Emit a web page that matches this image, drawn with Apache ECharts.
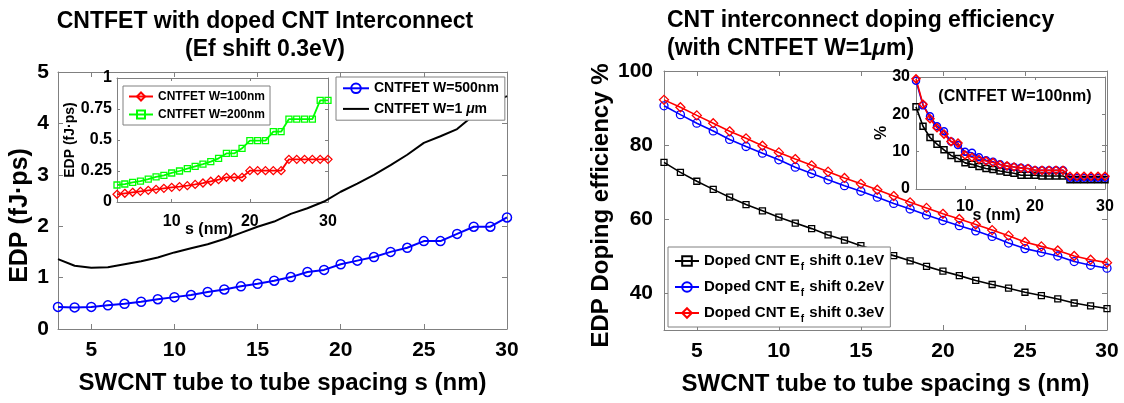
<!DOCTYPE html>
<html><head><meta charset="utf-8">
<script src="https://cdn.jsdelivr.net/npm/echarts@6/dist/echarts.min.js"></script>
<style>html,body{margin:0;padding:0;background:#fff}#c{width:1124px;height:403px}</style>
</head><body><div id="c"></div>
<script>
// ---------- data ----------
const spacingNm = [3,4,5,6,7,8,9,10,11,12,13,14,15,16,17,18,19,20,21,22,23,24,25,26,27,28,29,30];
// Left main: EDP (fJ.ps)
const edpW500nm = [0.43,0.42,0.43,0.46,0.49,0.53,0.58,0.62,0.66,0.72,0.77,0.83,0.88,0.94,1.01,1.11,1.15,1.26,1.33,1.40,1.50,1.58,1.71,1.71,1.85,1.99,1.99,2.17];
const edpW1um = [1.36,1.23,1.19,1.20,1.26,1.32,1.39,1.49,1.57,1.65,1.75,1.87,1.99,2.09,2.24,2.35,2.48,2.67,2.83,3.00,3.19,3.39,3.62,3.75,3.89,4.16,4.39,4.53];
// Left inset
const edpW100nm = [0.062,0.070,0.078,0.086,0.094,0.102,0.110,0.118,0.124,0.132,0.142,0.153,0.167,0.180,0.199,0.199,0.199,0.253,0.253,0.253,0.253,0.253,0.344,0.344,0.344,0.344,0.344,0.344];
const edpW200nm = [0.137,0.145,0.159,0.169,0.185,0.202,0.215,0.234,0.250,0.269,0.288,0.306,0.325,0.352,0.392,0.392,0.433,0.495,0.495,0.495,0.567,0.567,0.669,0.669,0.669,0.669,0.820,0.820];
// Right main: doping efficiency % (CNTFET W=1um)
const effShift01 = [75.3,72.6,70.2,68.0,65.9,63.9,62.2,60.5,58.9,57.4,55.7,54.3,52.8,51.4,50.1,48.7,47.2,45.9,44.7,43.4,42.3,41.3,40.2,39.3,38.4,37.3,36.5,35.8];
const effShift02 = [90.6,88.2,85.9,83.8,81.5,79.6,77.8,76.0,74.0,72.3,70.6,69.0,67.5,65.9,64.2,62.7,61.1,59.6,58.2,56.8,55.3,53.5,52.0,51.0,50.0,48.5,47.5,46.7];
const effShift03 = [92.2,90.2,88.0,85.9,83.7,81.8,79.8,78.0,76.2,74.5,72.8,71.1,69.5,67.9,66.2,64.5,63.0,61.4,60.0,58.5,57.0,55.5,53.8,52.6,51.5,50.0,49.0,48.2];
// Right inset (CNTFET W=100nm)
const insetShift01 = [22,16.8,13.8,12,10.5,9,8.2,7,6.6,6,5.5,5.2,4.8,4.5,4.2,3.7,3.7,3.7,3.5,3.5,3.5,3.5,2.5,2.5,2.5,2.5,2.5,2.5];
const insetShift02 = [29,22.4,19.5,16.8,15.5,12.7,11.8,10,9.7,8.5,7.7,7.3,6.6,6.1,5.9,5.7,5.5,5,5,5,5,5,3,3,3,3,3,3];
const insetShift03 = [29.5,22.7,18.8,16.4,14.7,12.7,12.3,9.1,8.5,7.9,7.5,7.1,6.5,6.2,5.9,5.6,5.5,5,5,5,5,5,3.4,3.4,3.4,3.4,3.4,3.4];
// tick values
const mainXTicks = [5,10,15,20,25,30];
const insetXTicks = [10,20,30];
const leftYTicks = [0,1,2,3,4,5];
const leftInsetYTicks = [0,0.25,0.5,0.75,1];
const rightYTicks = [40,60,80,100];
const rightInsetYTicks = [0,10,20,30];

// ---------- chart ----------
const FF = '"Liberation Sans", Arial, Helvetica, sans-serif';
const AX = '#808080';
const pairs = arr => spacingNm.map((x, i) => [x, arr[i]]);

function xAxes(g, min, max, ticks, o) {
  const common = {type:'value', gridIndex:g, min, max, splitLine:{show:false}};
  return [
    Object.assign({}, common, {
      position:'bottom', name:o.name, nameLocation:'middle', nameGap:o.nameGap, nameMoveOverlap:false,
      nameTextStyle:{fontSize:o.nameSize, fontWeight:'bold', color:'#000', fontFamily:FF, padding:o.namePad || 0},
      axisLine:{show:true, onZero:false, lineStyle:{color:AX, width:1}},
      axisTick:{show:true, inside:true, length:o.tickLen, customValues:ticks, lineStyle:{color:AX}},
      axisLabel:{show:true, customValues:ticks, fontSize:o.labelSize, fontWeight:'bold', color:'#000', fontFamily:FF, margin:o.labelMargin}
    }),
    Object.assign({}, common, {
      position:'top',
      axisLine:{show:true, onZero:false, lineStyle:{color:AX, width:1}},
      axisTick:{show:true, inside:true, length:o.tickLen, customValues:ticks, lineStyle:{color:AX}},
      axisLabel:{show:false}
    })
  ];
}
function yAxes(g, min, max, ticks, o) {
  const common = {type:'value', gridIndex:g, min, max, splitLine:{show:false}};
  return [
    Object.assign({}, common, {
      position:'left', name:o.name, nameLocation:'middle', nameGap:o.nameGap, nameMoveOverlap:false,
      nameTextStyle:{fontSize:o.nameSize, fontWeight:'bold', color:'#000', fontFamily:FF, padding:o.namePad || 0},
      axisLine:{show:true, onZero:false, lineStyle:{color:AX, width:1}},
      axisTick:{show:true, inside:true, length:o.tickLen, customValues:ticks, lineStyle:{color:AX}},
      axisLabel:{show:true, customValues:ticks, fontSize:o.labelSize, fontWeight:'bold', color:'#000', fontFamily:FF, margin:o.labelMargin}
    }),
    Object.assign({}, common, {
      position:'right',
      axisLine:{show:true, onZero:false, lineStyle:{color:AX, width:1}},
      axisTick:{show:true, inside:true, length:o.tickLen, customValues:ticks, lineStyle:{color:AX}},
      axisLabel:{show:false}
    })
  ];
}

function lineSeries(name, data, xi, yi, color, symbol, size, lw, bw) {
  return {
    type:'line', name, data:pairs(data), xAxisIndex:xi, yAxisIndex:yi,
    symbol: symbol || 'none', showSymbol: !!symbol, symbolSize:size || 0,
    itemStyle:{color:'none', borderColor: symbol ? color : 'rgba(0,0,0,0)', borderWidth:bw || 1.5},
    lineStyle:{color, width:lw},
    emphasis:{disabled:true}, animation:false, z:3
  };
}

const legendBase = {
  orient:'vertical', backgroundColor:'#fff', borderColor:AX, borderWidth:1, borderRadius:0,
  selectedMode:false, itemWidth:26, align:'left'
};

const option = {
  animation:false,
  grid:[
    {left:58, top:72, width:449, height:257},
    {left:117, top:78, width:211, height:124},
    {left:664, top:71, width:443, height:259},
    {left:916, top:77, width:189, height:112}
  ],
  xAxis:[].concat(
    xAxes(0, 3, 30, mainXTicks, {name:'SWCNT tube to tube spacing s (nm)', nameGap:42, nameSize:24, labelSize:21, labelMargin:11, tickLen:5}),
    xAxes(1, 3, 30, insetXTicks, {name:'s (nm)', nameGap:20, nameSize:16, labelSize:16, labelMargin:12, tickLen:3, namePad:[0,27,0,0]}),
    xAxes(2, 3, 30, mainXTicks, {name:'SWCNT tube to tube spacing s (nm)', nameGap:42, nameSize:24, labelSize:21, labelMargin:11, tickLen:5}),
    xAxes(3, 3, 30, insetXTicks, {name:'s (nm)', nameGap:19, nameSize:16, labelSize:16, labelMargin:10, tickLen:3, namePad:[0,28,0,0]})
  ),
  yAxis:[].concat(
    yAxes(0, 0, 5, leftYTicks, {name:'EDP (fJ·ps)', nameGap:25, nameSize:25, labelSize:21, labelMargin:9, tickLen:5, namePad:[0,30,0,0]}),
    yAxes(1, 0, 1, leftInsetYTicks, {name:'EDP (fJ·ps)', nameGap:40, nameSize:14, labelSize:16, labelMargin:5, tickLen:3}),
    yAxes(2, 30, 100, rightYTicks, {name:'EDP Doping efficiency %', nameGap:51, nameSize:24, labelSize:21, labelMargin:11, tickLen:5, namePad:[0,10,0,0]}),
    yAxes(3, 0, 30, rightInsetYTicks, {name:'%', nameGap:26, nameSize:16, labelSize:16, labelMargin:6, tickLen:3})
  ),
  legend:[
    Object.assign({}, legendBase, {
      left:336, top:77, padding:[4,6,4,6], itemGap:6, itemHeight:12,
      data:['CNTFET W=500nm','CNTFET W=1 μm'],
      textStyle:{fontSize:14, fontWeight:'bold', color:'#000', fontFamily:FF,
        rich:{i:{fontSize:14, fontWeight:'bold', fontStyle:'italic', fontFamily:FF, color:'#000'}}},
      formatter: n => n.replace('μ', '{i|μ}')
    }),
    Object.assign({}, legendBase, {
      left:123, top:86, padding:[4,5,4,5], itemGap:5, itemHeight:10, itemWidth:24,
      data:['CNTFET W=100nm','CNTFET W=200nm'],
      textStyle:{fontSize:12, fontWeight:'bold', color:'#000', fontFamily:FF}
    }),
    Object.assign({}, legendBase, {
      left:668, top:247, padding:[3,6,3,6], itemGap:4, itemHeight:12, itemWidth:24,
      data:['Doped CNT Ef shift 0.1eV','Doped CNT Ef shift 0.2eV','Doped CNT Ef shift 0.3eV'],
      textStyle:{fontSize:15, fontWeight:'bold', color:'#000', fontFamily:FF, lineHeight:22,
        rich:{s:{fontSize:10, fontWeight:'bold', fontFamily:FF, color:'#000', verticalAlign:'bottom', lineHeight:10, padding:[0,1,0,1]}}},
      formatter: n => n.replace('Ef', 'E{s|f}')
    })
  ],
  series:[
    lineSeries('CNTFET W=500nm', edpW500nm, 0, 0, '#0000ff', 'circle', 9, 2, 1.5),
    lineSeries('CNTFET W=1 μm', edpW1um, 0, 0, '#000000', null, 0, 2),
    lineSeries('CNTFET W=100nm', edpW100nm, 2, 2, '#ff0000', 'diamond', 8, 1.8, 1.3),
    lineSeries('CNTFET W=200nm', edpW200nm, 2, 2, '#00ff00', 'rect', 6, 1.8, 1.3),
    lineSeries('Doped CNT Ef shift 0.1eV', effShift01, 4, 4, '#000000', 'rect', 6, 1.6, 1.3),
    lineSeries('Doped CNT Ef shift 0.2eV', effShift02, 4, 4, '#0000ff', 'circle', 8, 1.6, 1.3),
    lineSeries('Doped CNT Ef shift 0.3eV', effShift03, 4, 4, '#ff0000', 'diamond', 9, 1.6, 1.3),
    Object.assign(lineSeries('i01', insetShift01, 6, 6, '#000000', 'rect', 6, 1.6, 1.5), {legendHoverLink:false}),
    Object.assign(lineSeries('i02', insetShift02, 6, 6, '#0000ff', 'circle', 7, 1.6, 1.5), {legendHoverLink:false}),
    Object.assign(lineSeries('i03', insetShift03, 6, 6, '#ff0000', 'diamond', 8, 1.6, 1.5), {legendHoverLink:false})
  ],
  graphic:[
    {type:'text', x:265, y:8, style:{text:'CNTFET with doped CNT Interconnect\n(Ef shift 0.3eV)', fontSize:23, fontWeight:'bold', fontFamily:FF, fill:'#000', textAlign:'center', lineHeight:28}},
    {type:'text', x:667, y:7, style:{text:'CNT interconnect doping efficiency\n(with CNTFET W=1{i|μ}m)', fontSize:23, fontWeight:'bold', fontFamily:FF, fill:'#000', textAlign:'left', lineHeight:28,
      rich:{i:{fontSize:23, fontWeight:'bold', fontStyle:'italic', fontFamily:FF, fill:'#000', lineHeight:28}}}},
    {type:'text', x:1015, y:97, z:10, style:{text:'(CNTFET W=100nm)', fontSize:16, fontWeight:'bold', fontFamily:FF, fill:'#000', textAlign:'center', textVerticalAlign:'middle'}}
  ]
};
const chart = echarts.init(document.getElementById('c'), null, {renderer:'canvas'});
chart.setOption(option);
</script>
</body></html>
